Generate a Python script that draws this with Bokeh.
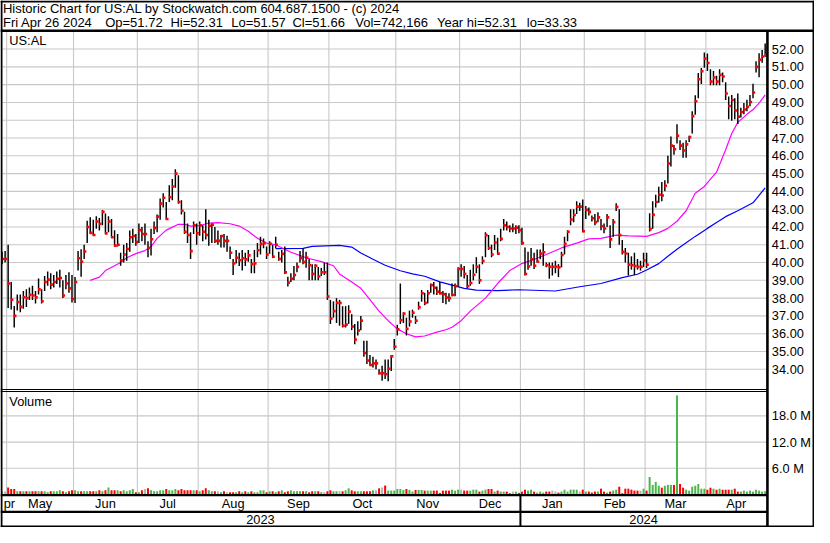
from bokeh.plotting import figure
from bokeh.models import Range1d
from bokeh.core.properties import value
from bokeh.embed import file_html
from bokeh.resources import INLINE

# ---------------- data ----------------
title_line1 = "Historic Chart for US:AL by Stockwatch.com 604.687.1500 - (c) 2024"
title_line2 = ["Fri Apr 26 2024", "Op=51.72", "Hi=52.31", "Lo=51.57", "Cl=51.66",
               "Vol=742,166", "Year hi=52.31", "lo=33.33"]
symbol = "US:AL"
volume_title = "Volume"

# month labels as they appear (the first, April 2023, is only partly shown: "pr")
month_labels = ["pr", "May", "Jun", "Jul", "Aug", "Sep", "Oct", "Nov", "Dec",
                "Jan", "Feb", "Mar", "Apr"]
month_days = [2, 22, 21, 20, 23, 20, 22, 21, 20, 21, 20, 20, 20]
year_names = ["2023", "2024"]
year_month_count = [9, 4]

high = [40.60, 40.65,
        41.00, 38.90, 37.55, 38.20, 38.20, 38.40, 38.50, 38.60, 38.70, 38.40, 39.10,
        38.50, 39.25, 39.50, 39.40, 39.30, 39.50, 39.60, 39.00, 39.30, 39.45, 39.30,
        39.18, 40.65, 40.75, 41.00, 42.35, 42.55, 42.40, 42.60, 42.50, 42.95, 42.75,
        42.60, 42.45, 41.82, 41.60, 40.55, 41.00, 41.10, 41.80, 41.90, 41.60,
        42.20, 42.00, 42.20, 41.20, 41.90, 42.30, 42.70, 43.60, 43.90, 43.40,
        44.35, 44.70, 45.24, 44.90, 43.50, 42.85, 42.20, 41.70, 42.30, 42.20,
        42.30, 42.10, 43.00, 42.40, 42.20, 42.00, 41.80, 41.55, 41.60, 41.50, 40.90,
        40.20, 40.70, 40.55, 40.70, 40.55, 40.70, 40.20, 40.70, 41.10, 41.45, 41.35, 40.90,
        41.20, 41.00, 41.45, 40.60, 40.70, 40.90, 39.20, 39.40, 39.80, 40.00,
        40.65, 40.80, 40.60, 40.20, 39.90, 39.90, 39.75, 39.70, 40.00, 40.00,
        37.90, 37.82, 38.00, 37.90, 37.55, 37.55, 37.60, 37.10, 36.55, 36.70, 37.00,
        35.60, 35.60, 34.80, 34.70, 34.55, 34.00, 34.20, 34.55, 34.55, 34.80, 35.70,
        36.50, 38.82, 37.20, 36.90, 37.30, 37.35, 37.00, 37.80, 38.45, 38.30, 38.45,
        38.82, 38.90, 38.65, 38.90, 38.40, 38.30, 38.27, 38.82, 38.82, 39.73,
        39.90, 39.80, 39.30, 39.60, 39.90, 40.30, 39.90, 40.35, 41.70, 41.55,
        41.00, 41.55, 41.40, 41.90, 42.45, 42.30, 42.10, 42.20, 42.10, 42.10,
        41.95, 40.85, 40.60, 40.82, 40.55, 40.73, 40.73, 41.09, 40.00, 40.00, 40.00,
        40.10, 39.91, 40.60, 41.45, 41.82, 43.00, 43.00, 43.45, 43.36, 43.55,
        43.18, 43.10, 42.65, 42.73, 42.82, 42.45, 42.20, 42.73, 42.09, 42.45,
        43.33, 43.00, 41.27, 40.82, 40.55, 40.35, 40.55, 40.20, 40.10, 40.55,
        40.55, 42.77, 43.45, 43.81, 44.26, 44.53, 44.62, 46.00, 47.08, 46.60,
        47.77, 46.87, 46.73, 46.87, 47.13, 48.50, 49.40, 50.66, 50.93, 51.80,
        51.75, 50.86, 50.77, 50.50, 50.86, 50.68, 50.14, 49.33, 49.42, 49.24,
        49.50, 48.70, 48.97, 49.15, 49.42, 50.05, 51.32, 51.77, 51.95, 52.31]

low = [39.90, 40.00,
       37.45, 37.36, 36.35, 37.30, 37.20, 37.40, 37.50, 37.90, 37.90, 37.70, 38.20,
       37.70, 38.40, 38.70, 38.50, 38.60, 38.80, 38.60, 38.00, 38.50, 38.30, 37.75,
       37.73, 39.55, 39.20, 40.20, 41.10, 41.60, 41.50, 41.90, 41.80, 42.10, 41.60,
       41.70, 41.40, 40.91, 40.90, 39.82, 40.00, 40.10, 40.60, 41.10, 40.95,
       41.10, 41.20, 41.00, 40.30, 40.40, 41.60, 41.70, 42.40, 43.10, 42.40,
       43.40, 43.50, 44.20, 43.30, 42.70, 41.60, 41.10, 40.20, 41.60, 41.00,
       41.50, 41.20, 41.30, 40.95, 41.10, 41.10, 41.00, 40.85, 40.85, 40.60, 40.20,
       39.30, 39.95, 39.80, 39.55, 39.80, 40.05, 39.40, 39.40, 40.30, 40.45, 40.80, 40.20,
       40.50, 40.25, 40.80, 40.10, 40.00, 39.35, 38.65, 38.90, 39.00, 39.45,
       40.00, 39.90, 39.70, 39.00, 39.00, 39.00, 39.00, 39.25, 39.30, 37.90,
       36.55, 36.90, 36.60, 36.45, 36.35, 36.35, 36.55, 36.20, 35.40, 35.90, 36.20,
       34.70, 34.30, 34.20, 34.10, 34.00, 33.70, 33.35, 33.45, 33.33, 33.90, 35.10,
       35.90, 36.55, 36.60, 35.90, 36.40, 36.90, 36.55, 37.35, 37.80, 37.60, 37.70,
       38.30, 38.20, 38.18, 38.20, 37.73, 37.65, 37.80, 38.10, 38.10, 38.65,
       39.20, 39.10, 38.55, 38.70, 39.00, 39.40, 38.80, 39.90, 40.30, 40.70,
       40.30, 40.70, 40.45, 41.20, 41.80, 41.80, 41.70, 41.70, 41.60, 41.65,
       41.00, 39.27, 39.60, 39.82, 39.64, 40.00, 40.18, 39.82, 39.73, 39.09, 39.27,
       39.40, 39.18, 39.73, 40.45, 41.20, 42.09, 42.27, 42.73, 42.90, 41.70,
       42.45, 42.65, 42.30, 42.09, 42.27, 41.82, 41.65, 42.00, 40.82, 41.45,
       42.90, 41.00, 40.45, 40.00, 39.27, 39.60, 39.30, 39.60, 39.55, 39.75,
       39.70, 41.74, 41.90, 43.09, 43.36, 43.45, 44.00, 44.44, 45.40, 46.06,
       46.69, 46.33, 45.89, 45.89, 46.78, 47.26, 48.31, 49.24, 50.03, 50.95,
       50.77, 49.96, 49.96, 49.96, 49.96, 50.14, 49.14, 48.06, 47.97, 48.06,
       47.79, 48.15, 48.33, 48.50, 48.79, 49.24, 50.68, 50.41, 51.23, 51.57]

close = [40.20, 40.20,
         38.82, 37.91, 37.00, 37.78, 37.51, 38.05, 38.00, 38.18, 38.15, 38.04, 38.49,
         37.82, 38.91, 39.04, 38.76, 38.91, 39.09, 39.13, 38.15, 38.82, 38.55, 37.95,
         38.91, 40.24, 40.04, 40.62, 42.00, 41.67, 41.55, 42.31, 42.18, 42.85, 41.64,
         42.31, 41.42, 40.95, 41.00, 40.13, 40.45, 40.76, 41.42, 41.49, 41.15,
         41.82, 41.60, 41.60, 40.82, 41.31, 41.95, 42.58, 43.31, 43.64, 42.45,
         43.67, 44.27, 45.00, 43.40, 42.91, 41.73, 41.55, 40.64, 42.09, 41.64,
         42.09, 41.73, 41.55, 42.07, 42.13, 41.22, 41.22, 41.49, 41.22, 41.22, 40.55,
         39.95, 40.27, 40.13, 40.24, 40.18, 40.40, 39.91, 39.95, 40.69, 41.05, 41.09, 40.45,
         41.05, 40.33, 41.00, 40.20, 40.49, 39.45, 38.87, 39.09, 39.30, 39.76,
         40.25, 40.03, 40.27, 39.85, 39.36, 39.82, 39.22, 39.45, 39.45, 38.09,
         36.85, 37.27, 37.73, 37.73, 36.45, 36.51, 37.24, 36.40, 35.67, 36.18, 36.73,
         34.91, 34.49, 34.24, 34.33, 34.33, 33.78, 33.78, 33.73, 34.03, 34.73, 35.27,
         36.25, 36.76, 37.13, 36.27, 36.69, 37.18, 36.73, 37.49, 38.27, 37.73, 38.27,
         38.73, 38.58, 38.36, 38.27, 38.22, 38.03, 38.00, 38.18, 38.67, 39.64,
         39.64, 39.36, 38.67, 38.85, 39.31, 39.76, 39.00, 40.09, 41.54, 40.82,
         40.45, 41.13, 40.50, 41.33, 42.09, 42.00, 41.91, 41.91, 41.96, 41.82,
         41.09, 39.36, 39.78, 40.18, 39.82, 40.05, 40.50, 40.58, 39.85, 39.76, 39.76,
         39.76, 39.73, 40.42, 41.05, 41.73, 42.42, 42.67, 43.14, 43.14, 41.76,
         42.96, 42.85, 42.49, 42.27, 42.54, 42.04, 41.91, 42.54, 41.30, 42.27,
         43.13, 41.54, 40.60, 40.51, 39.88, 39.85, 39.80, 39.76, 39.76, 40.12,
         39.88, 41.88, 42.68, 43.40, 43.81, 43.77, 44.32, 45.57, 46.57, 46.37,
         47.13, 46.57, 46.30, 46.64, 47.05, 48.23, 49.07, 50.30, 50.75, 51.46,
         51.22, 50.17, 50.40, 50.17, 50.55, 50.46, 49.50, 48.80, 49.14, 48.55,
         48.20, 48.46, 48.60, 48.75, 49.02, 49.56, 51.00, 51.40, 51.58, 51.66]

volume_m = [0.67, 0.67,
            1.63, 1.26, 1.26, 0.74, 0.74, 0.74, 0.74, 0.74, 0.74, 0.74, 0.74,
            0.74, 0.74, 0.52, 0.74, 0.74, 0.74, 0.96, 0.74, 0.52, 0.74, 0.96,
            0.96, 0.74, 0.74, 0.74, 0.74, 0.74, 0.74, 0.74, 0.96, 0.74, 0.96,
            1.63, 0.96, 0.96, 0.96, 0.74, 0.96, 0.74, 0.96, 1.26, 0.52,
            0.52, 0.96, 1.26, 1.41, 0.96, 0.74, 0.74, 0.96, 0.96, 1.26,
            0.96, 0.96, 1.26, 0.96, 1.26, 0.96, 0.96, 0.96, 0.96, 0.96,
            0.74, 0.96, 1.41, 0.96, 0.74, 0.74, 0.74, 0.52, 0.74, 0.52, 0.52,
            0.52, 0.52, 0.74, 0.52, 0.74, 0.52, 0.74, 0.52, 0.52, 0.96, 0.96, 0.52,
            0.74, 0.74, 0.52, 0.74, 0.96, 0.52, 0.74, 0.96, 0.74, 0.74,
            0.74, 0.74, 0.74, 0.52, 0.74, 0.74, 0.74, 0.52, 0.52, 0.74,
            0.96, 0.74, 0.74, 0.74, 0.74, 0.96, 1.41, 0.96, 0.74, 0.74, 0.74,
            0.74, 0.74, 0.74, 0.96, 0.96, 1.41, 1.60, 2.05, 0.90, 0.90, 0.90,
            1.26, 1.26, 1.04, 1.26, 1.04, 0.67, 1.04, 1.04, 1.04, 0.89, 0.89,
            0.89, 0.89, 0.89, 0.37, 0.89, 0.89, 0.89, 1.11, 0.89, 1.11,
            1.11, 0.89, 0.89, 0.89, 1.11, 1.11, 0.67, 0.89, 1.11, 1.26,
            1.26, 0.67, 0.89, 0.67, 0.67, 0.67, 0.30, 0.67, 0.67, 0.37,
            0.67, 1.11, 0.89, 1.11, 0.67, 0.44, 0.67, 0.44, 0.67, 0.67, 0.89,
            0.67, 0.44, 0.67, 1.11, 0.67, 1.11, 1.11, 1.11, 0.67, 1.11,
            0.67, 0.67, 0.44, 0.67, 0.67, 1.33, 0.67, 0.44, 0.67, 0.89,
            1.11, 1.78, 0.30, 1.33, 1.33, 1.11, 0.89, 0.89, 0.89, 1.33,
            0.89, 4.00, 2.20, 2.90, 2.00, 1.56, 2.00, 2.20, 2.20, 2.20,
            22.70, 2.40, 1.56, 1.10, 0.89, 1.78, 2.00, 2.40, 1.33, 1.33,
            1.10, 1.56, 1.33, 1.10, 1.33, 1.10, 1.10, 1.10, 1.10, 1.33,
            0.67, 0.67, 0.89, 0.67, 0.89, 0.67, 1.10, 0.89, 0.67, 0.742166]

# moving averages (bar index, value)
ma30_idx = [29, 32, 34, 37, 39, 41, 44, 47, 49, 51, 54, 58, 60, 62, 65, 68, 71, 75, 78, 81,
            84, 87, 90, 95, 100, 105, 109, 111, 115, 118, 121, 124, 127, 130, 133, 136,
            139, 143, 146, 148, 151, 154, 159, 163, 167, 171, 176, 179, 184, 189, 193,
            197, 202, 206, 212, 216, 219, 222, 225, 228, 231, 235, 238, 240, 242, 245,
            247, 249, 251]
ma30_val = [39.00, 39.18, 39.55, 39.82, 40.00, 40.27, 40.50, 40.67, 40.90, 41.36, 41.82,
            42.15, 42.15, 42.05, 42.07, 42.22, 42.24, 42.18, 42.05, 41.76, 41.36, 41.09,
            41.00, 40.58, 40.27, 40.05, 39.82, 39.36, 38.91, 38.55, 37.91, 37.27, 36.73,
            36.27, 36.00, 35.82, 35.87, 36.09, 36.22, 36.36, 36.73, 37.27, 38.00, 38.82,
            39.55, 39.94, 40.24, 40.45, 40.82, 41.09, 41.33, 41.36, 41.54, 41.50, 41.47,
            41.68, 41.92, 42.32, 42.91, 43.90, 44.28, 45.08, 46.34, 47.25, 47.88, 48.33,
            48.60, 48.96, 49.42]
ma90_idx = [90, 99, 102, 111, 115, 118, 122, 126, 131, 135, 139, 144, 148, 152, 156, 163,
            170, 182, 190, 197, 204, 209, 212, 216, 219, 222, 225, 228, 232, 235, 238,
            242, 247, 251]
ma90_val = [40.78, 40.80, 40.91, 40.96, 40.87, 40.54, 40.18, 39.85, 39.54, 39.36, 39.23,
            38.91, 38.73, 38.55, 38.45, 38.42, 38.47, 38.40, 38.64, 38.82, 39.15, 39.34,
            39.58, 39.94, 40.35, 40.75, 41.11, 41.47, 41.92, 42.25, 42.58, 42.91, 43.36,
            44.20]

price_ticks = [34, 35, 36, 37, 38, 39, 40, 41, 42, 43, 44, 45, 46, 47, 48, 49, 50, 51, 52]
vol_ticks = [6, 12, 18]
vol_tick_labels = ["6.0 M", "12.0 M", "18.0 M"]

n = len(close)
assert len(high) == n and len(low) == n and len(volume_m) == n == sum(month_days)
assert len(ma30_idx) == len(ma30_val) and len(ma90_idx) == len(ma90_val)

# ---------------- layout (reference pixel geometry, scaled to fit) ----------------
W, H = 814, 527                 # page area inside the 8px margin
RW, RH = 830, 543               # reference geometry units
BAR0, STEP = 1.6, 3.1           # x of first bar, bar spacing (ref px)
PY43, PPU = 215.0, 18.33        # ref y of price 43, px per 1.00
VY0, VPU = 509.0, 4.5           # ref y of zero volume, px per 1 M
PLOT_R = 782.0                  # right edge of plot panels
FONT = value("Liberation Sans")
FS = "12.8px"
GRID = "#c8c8c8"

p = figure(width=W, height=H, output_backend="svg", toolbar_location=None,
           x_range=Range1d(-BAR0 / STEP, (RW - BAR0) / STEP),
           y_range=Range1d(43 - (RH - PY43) / PPU, 43 + PY43 / PPU),
           x_axis_location=None, y_axis_location=None,
           min_border=0, min_border_left=0, min_border_right=0,
           min_border_top=0, min_border_bottom=0,
           outline_line_color=None, background_fill_color="white",
           border_fill_color="white")
p.extra_x_ranges = {"px": Range1d(0, RW)}
p.extra_y_ranges = {"py": Range1d(RH, 0),
                    "vol": Range1d(-(RH - VY0) / VPU, VY0 / VPU)}
p.grid.visible = False

idx = list(range(n))

# month boundaries / label centres from trading-day counts
starts, s = [], 0
for d in month_days:
    starts.append(s)
    s += d
bounds = [st - 0.5 for st in starts[1:]]
month_centres = [st + (d - 1) / 2 for st, d in zip(starts, month_days)]
year_centres, year_bounds, m0 = [], [], 0
for cnt in year_month_count:
    first = starts[m0]
    last = starts[m0 + cnt - 1] + month_days[m0 + cnt - 1] - 1
    year_centres.append((first + last) / 2)
    if m0 > 0:
        year_bounds.append(first - 0.5)
    m0 += cnt

# grid lines
p.segment(x0=bounds, x1=bounds, y0=[32.5] * len(bounds), y1=[509] * len(bounds),
          y_range_name="py", line_color=GRID, line_width=1.1)
p.segment(x0=[2] * len(price_ticks), x1=[PLOT_R] * len(price_ticks),
          y0=price_ticks, y1=price_ticks, x_range_name="px",
          line_color=GRID, line_width=1.1)
p.segment(x0=[2] * len(vol_ticks), x1=[PLOT_R] * len(vol_ticks),
          y0=vol_ticks, y1=vol_ticks, x_range_name="px", y_range_name="vol",
          line_color=GRID, line_width=1.1)

# moving averages
p.line(ma90_idx, ma90_val, line_color="#0000ff", line_width=1.2)
p.line(ma30_idx, ma30_val, line_color="#ff00ff", line_width=1.2)

# price bars (high-low) with red close mark
p.segment(x0=idx, x1=idx, y0=low, y1=high, line_color="black", line_width=1.45)
p.rect(x=[i + 0.28 for i in idx], y=close, width=2.7, height=2.6,
       width_units="screen", height_units="screen",
       fill_color="#ff0000", line_color=None)

# volume bars coloured by close-to-close change
vcol = []
for i in idx:
    if i == 0 or close[i] == close[i - 1]:
        vcol.append("#b4b4b4")
    elif close[i] > close[i - 1]:
        vcol.append("#4cb64c")
    else:
        vcol.append("#ff0000")
p.vbar(x=idx, top=volume_m, bottom=0, width=0.66, fill_color=vcol, line_color=None,
       y_range_name="vol")

# frame lines
blk = "black"
p.segment(x0=[0, 0, 0], x1=[RW, RW, RW], y0=[1, 31.2, 542], y1=[1, 31.2, 542],
          x_range_name="px", y_range_name="py", line_color=blk,
          line_width=[2, 2.6, 2])
p.segment(x0=[1, RW - 1], x1=[1, RW - 1], y0=[0, 0], y1=[RH, RH],
          x_range_name="px", y_range_name="py", line_color=blk, line_width=2)
p.segment(x0=[0, 0], x1=[PLOT_R, PLOT_R], y0=[400.8, 402.8], y1=[400.8, 402.8],
          x_range_name="px", y_range_name="py", line_color=blk, line_width=1.1)
p.segment(x0=[0, 0], x1=[PLOT_R, PLOT_R], y0=[509.6, 527], y1=[509.6, 527],
          x_range_name="px", y_range_name="py", line_color=blk, line_width=2.2)
p.segment(x0=[PLOT_R], x1=[PLOT_R], y0=[31], y1=[RH], x_range_name="px",
          y_range_name="py", line_color=blk, line_width=2.6)
p.segment(x0=year_bounds, x1=year_bounds, y0=[509] * len(year_bounds),
          y1=[RH] * len(year_bounds), y_range_name="py", line_color=blk, line_width=2)

# texts
def txt(x, y, t, size=FS, **kw):
    p.text(x=x, y=y, text=t, text_font=FONT, text_font_size=size,
           text_color="black", text_baseline="middle", **kw)

txt([2.5], [8.5], [title_line1], size="13px", x_range_name="px", y_range_name="py")
txt([2.5, 106.7, 173.3, 235.3, 297.7, 361.7, 445.0, 536.7], [23] * len(title_line2),
    title_line2, size="13px", x_range_name="px", y_range_name="py")
txt([9], [41], [symbol], x_range_name="px", y_range_name="py")
txt([9], [413], [volume_title], x_range_name="px", y_range_name="py")
txt([786.5] * len(price_ticks), price_ticks, [f"{t:.2f}" for t in price_ticks],
    x_range_name="px")
txt([786.5] * len(vol_ticks), vol_ticks, vol_tick_labels,
    x_range_name="px", y_range_name="vol")
# partial first month label sits just inside the left edge
txt([3.2], [518], [month_labels[0]], x_range_name="px", y_range_name="py")
txt(month_centres[1:], [518] * (len(month_labels) - 1), month_labels[1:],
    y_range_name="py", text_align="center")
txt(year_centres, [535] * len(year_names), year_names, y_range_name="py",
    text_align="center")

open("out.html", "w").write(file_html(p, INLINE))
